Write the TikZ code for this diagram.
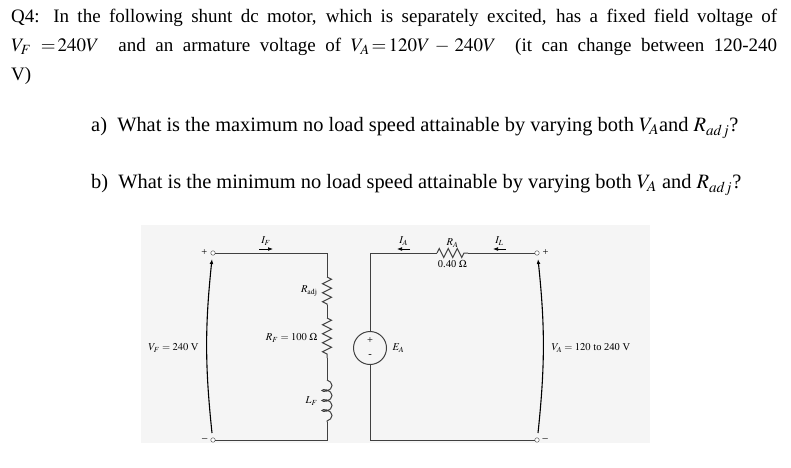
\documentclass[tikz,border=0pt]{standalone}
\usepackage{mathptmx}
\usepackage{fontspec}
\setmainfont{Liberation Serif}
\usetikzlibrary{positioning,calc,decorations.pathmorphing,arrows.meta}
\tikzset{
  wire/.style={draw=black!75, line width=1pt},
  resistor/.style={decorate, decoration={zigzag, segment length=9pt, amplitude=4.5pt}},
  coil/.style={decorate, decoration={coil, aspect=0.6, segment length=10pt, amplitude=5pt}},
  term/.style={circle, draw=black!75, fill=white, inner sep=1.6pt},
  lbl/.style={font=\fontsize{10.5}{12}\selectfont},
  cur/.style={-{Latex[length=5pt]}, line width=0.7pt}
}
\begin{document}
\begin{tikzpicture}[x=1pt,y=-1pt]
	\useasboundingbox (0,0) rectangle (791,467);
	% question text
	\node[anchor=north west, text width=766pt, align=justify, inner sep=0pt, font=\fontsize{19}{29}\selectfont] (q) at (11,9)
	{Q4: In the following shunt dc motor, which is separately excited, has a fixed field voltage of\linebreak
	$V_F\ {=}\,240V$ \ and an armature voltage of $V_A\,{=}\,120V-240V$ \ (it can change between 120-240\linebreak V)};
	\node[anchor=west, inner sep=0pt, font=\fontsize{20.4}{21}\selectfont] (qa) at (91,128) {a)\ \ What is the maximum no load speed attainable by varying both $V_A$and $R_{adj}$?};
	\node[anchor=west, inner sep=0pt, font=\fontsize{20.4}{21}\selectfont] (qb) at (91,185) {b)\ \ What is the minimum no load speed attainable by varying both $V_A$ and $R_{adj}$?};
	% circuit
	\fill[black!4] (141,225) rectangle (650,443);
	\node[term] (fp) at (213,253) {};
	\node[term] (fm) at (213,440) {};
	\coordinate (ftop) at (327,253);
	\coordinate (fbot) at (327,440);
	\coordinate (ra1) at (327,277);
	\coordinate (ra2) at (327,305);
	\coordinate (rf1) at (327,318);
	\coordinate (rf2) at (327,358);
	\coordinate (lf1) at (327,380);
	\coordinate (lf2) at (327,422);
	\draw[wire] (fp) -- (ftop) -- (ra1);
	\draw[wire, resistor] (ra1) -- (ra2);
	\draw[wire] (ra2) -- (rf1);
	\draw[wire, resistor] (rf1) -- (rf2);
	\draw[wire] (rf2) -- (lf1);
	\draw[wire, coil] (lf1) -- (lf2);
	\draw[wire] (lf2) -- (fbot) -- (fm);
	\node[lbl, left=3pt of fp, inner sep=0pt] (fpl) {+};
	\node[lbl, left=3pt of fm, inner sep=0pt] (fml) {--};
	\node[lbl, left=6pt of $(ra1)!0.5!(ra2)$] (radj) {$R_{\mathrm{adj}}$};
	\node[lbl, left=6pt of $(rf1)!0.5!(rf2)$] (rf) {$R_F = 100\ \Omega$};
	\node[lbl, left=6pt of $(lf1)!0.5!(lf2)$] (lf) {$L_F$};
	\coordinate (vfa) at (212,433);
	\coordinate (vfb) at (212,259);
	\draw[cur, line width=1.1pt] (vfa) to[bend left=6] (vfb);
	\node[lbl, anchor=east] (vf) at (202,348) {$V_F = 240$ V};
	\coordinate (ifa) at (259,249);
	\coordinate (ifb) at (273,249);
	\draw[cur] (ifa) -- (ifb);
	\node[lbl, above=0pt of $(ifa)!0.5!(ifb)$] (if) {$I_F$};
	% armature
	\node[circle, draw=black!75, line width=1pt, minimum size=33pt, inner sep=0pt] (ea) at (370,348) {};
	\node[lbl, inner sep=0pt] (eap) at (370,341) {+};
	\node[lbl, inner sep=0pt] (eam) at (370,356) {-};
	\node[lbl, right=2pt of ea] (eal) {$E_A$};
	\coordinate (atop) at (370,253);
	\coordinate (abot) at (370,440);
	\coordinate (rA1) at (437,253);
	\coordinate (rA2) at (468,253);
	\node[term] (ap) at (537,253) {};
	\node[term] (am) at (537,440) {};
	\draw[wire] (ea) -- (atop) -- (rA1);
	\draw[wire, resistor] (rA1) -- (rA2);
	\draw[wire] (rA2) -- (ap);
	\draw[wire] (ea) -- (abot) -- (am);
	\node[lbl, right=3pt of ap, inner sep=0pt] (apl) {+};
	\node[lbl, right=3pt of am, inner sep=0pt] (aml) {--};
	\node[lbl, above=2pt of $(rA1)!0.5!(rA2)$] (ral) {$R_A$};
	\node[lbl, below=4pt of $(rA1)!0.5!(rA2)$] (rav) {0.40 $\Omega$};
	\coordinate (iaa) at (410,249);
	\coordinate (iab) at (397,249);
	\draw[cur] (iaa) -- (iab);
	\node[lbl, above=0pt of $(iaa)!0.5!(iab)$] (ia) {$I_A$};
	\coordinate (ila) at (506,249);
	\coordinate (ilb) at (493,249);
	\draw[cur] (ila) -- (ilb);
	\node[lbl, above=0pt of $(ila)!0.5!(ilb)$] (il) {$I_L$};
	\coordinate (vaa) at (538,433);
	\coordinate (vab) at (538,259);
	\draw[cur, line width=1.1pt] (vaa) to[bend right=6] (vab);
	\node[lbl, anchor=west] (va) at (548,348) {$V_A = 120$ to 240 V};
\end{tikzpicture}
\end{document}
